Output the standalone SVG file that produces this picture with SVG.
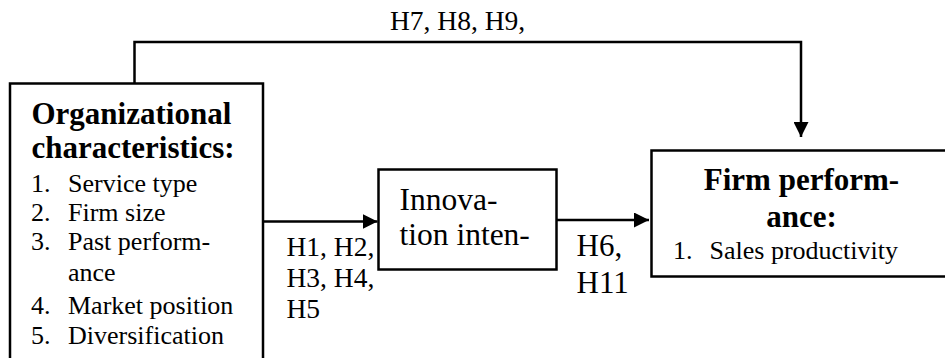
<svg xmlns="http://www.w3.org/2000/svg" width="945" height="358" viewBox="0 0 945 358">
  <style>
    text { font-family: 'Liberation Serif', 'DejaVu Serif', serif; fill: #000; }
    .head { font-weight: bold; font-size: 31px; }
    .item { font-size: 26px; }
    .hyp { font-size: 27.5px; }
    .hyp2 { font-size: 31px; }
    .big { font-size: 31.5px; }
    .box { fill: #fff; stroke: #000; stroke-width: 2.5; }
    .wire { fill: none; stroke: #000; stroke-width: 2.5; }
  </style>
  <defs>
    <marker id="arrow" viewBox="0 0 10 10" refX="10" refY="5" markerWidth="6" markerHeight="6" markerUnits="strokeWidth" orient="auto">
      <path d="M0,0 L10,5 L0,10 Z" fill="#000"/>
    </marker>
  </defs>
  <rect width="945" height="358" fill="#fff"/>

  <g id="connectors">
    <polyline class="wire" points="134.5,83 134.5,42 801,42 801,137" marker-end="url(#arrow)"/>
    <line class="wire" x1="263" y1="221.5" x2="377.5" y2="221.5" marker-end="url(#arrow)"/>
    <line class="wire" x1="557" y1="220" x2="649" y2="220" marker-end="url(#arrow)"/>
    <text class="hyp" x="390" y="30">H7, H8, H9,</text>
    <text class="hyp" x="286.5" y="255.5">H1, H2,</text>
    <text class="hyp" x="286.5" y="286.5">H3, H4,</text>
    <text class="hyp" x="286.5" y="317.5">H5</text>
    <text class="hyp2" x="576.5" y="256">H6,</text>
    <text class="hyp2" x="576.5" y="293">H11</text>
  </g>

  <g id="organizational">
    <rect class="box" x="10" y="83.5" width="253" height="290"/>
    <text class="head" x="31.5" y="124">Organizational</text>
    <text class="head" x="31.5" y="158">characteristics:</text>
    <text class="item" x="31" y="191.5">1.</text><text class="item" x="68" y="191.5">Service type</text>
    <text class="item" x="31" y="220.5">2.</text><text class="item" x="68" y="220.5">Firm size</text>
    <text class="item" x="31" y="249.5">3.</text><text class="item" x="68" y="249.5">Past perform-</text>
    <text class="item" x="68" y="281">ance</text>
    <text class="item" x="31" y="313.5">4.</text><text class="item" x="68" y="313.5">Market position</text>
    <text class="item" x="31" y="344">5.</text><text class="item" x="68" y="344">Diversification</text>
  </g>

  <g id="innovation">
    <rect class="box" x="378.5" y="169.5" width="178" height="100"/>
    <text class="big" x="399.5" y="210">Innova-</text>
    <text class="big" x="399.5" y="245">tion inten-</text>
  </g>

  <g id="performance">
    <rect class="box" x="651.5" y="150.5" width="300" height="126"/>
    <text class="head" x="801.5" y="190" text-anchor="middle">Firm perform-</text>
    <text class="head" x="801.5" y="226.5" text-anchor="middle">ance:</text>
    <text class="item" x="673" y="258.5">1.</text>
    <text class="item" x="709.5" y="258.5">Sales productivity</text>
  </g>
</svg>
